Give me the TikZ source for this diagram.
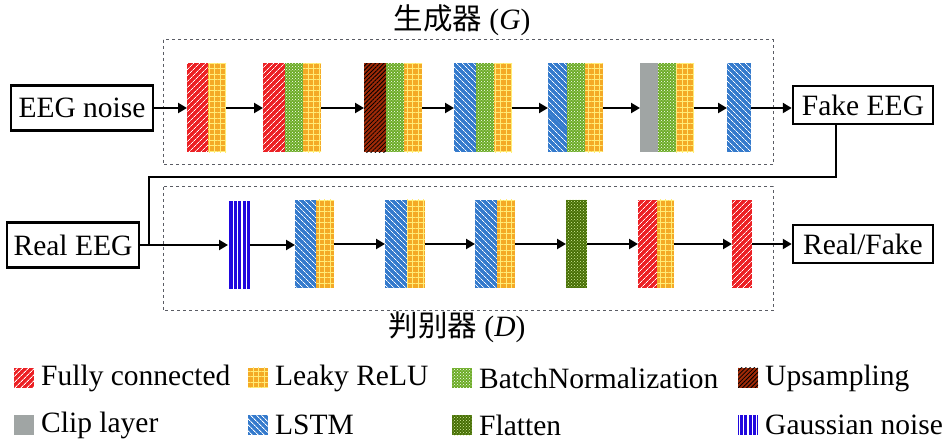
\documentclass[tikz,border=0pt]{standalone}
\usepackage{fontspec}
\setmainfont{Liberation Serif}
\newfontfamily\cjk{Noto Sans CJK SC}
\usetikzlibrary{positioning,arrows.meta,patterns,patterns.meta}
\definecolor{fcred}{RGB}{236,32,36}
\definecolor{lrorange}{RGB}{244,170,38}
\definecolor{lryellow}{RGB}{255,236,120}
\definecolor{bngreen}{RGB}{108,172,38}
\definecolor{upbrown}{RGB}{160,42,8}
\definecolor{clipgray}{RGB}{160,165,164}
\definecolor{lstmblue}{RGB}{52,122,204}
\definecolor{flatgreen}{RGB}{70,110,4}
\definecolor{flatdots}{RGB}{215,240,160}
\definecolor{gnblue}{RGB}{32,8,222}
\definecolor{framegray}{RGB}{90,92,100}
\tikzset{
  layer/.style={inner sep=0pt, outer sep=0pt, minimum height=89pt},
  fclayer/.style={layer, minimum width=21pt, fill=fcred,
    postaction={pattern={Lines[angle=45,distance=4pt,line width=0.8pt]}, pattern color=white}},
  lrelu/.style={layer, minimum width=18pt, fill=lrorange,
    postaction={pattern={Hatch[angle=0,distance=5.5pt,line width=1pt]}, pattern color=lryellow}},
  bnorm/.style={layer, minimum width=18pt, fill=bngreen,
    postaction={pattern=crosshatch dots, pattern color=white}},
  upsamp/.style={layer, minimum width=22pt, fill=upbrown,
    postaction={pattern={Lines[angle=45,distance=3pt,line width=0.8pt]}, pattern color=black}},
  cliplayer/.style={layer, minimum width=18pt, fill=clipgray},
  lstmlayer/.style={layer, minimum width=22pt, fill=lstmblue,
    postaction={pattern={Lines[angle=-45,distance=4pt,line width=0.8pt]}, pattern color=white}},
  flatlayer/.style={layer, minimum width=21pt, fill=flatgreen,
    postaction={pattern=crosshatch dots, pattern color=flatdots}},
  gnoise/.style={layer, minimum width=22pt, fill=gnblue,
    postaction={pattern={Lines[angle=90,distance=4.4pt,line width=1.3pt]}, pattern color=white}},
  swatch/.style={minimum width=20pt, minimum height=20pt},
  box/.style={draw, line width=2.5pt, inner sep=0pt},
  arr/.style={line width=2.5pt, -{Triangle[length=9pt,width=10pt]}},
  link/.style={line width=1.5pt},
  frame/.style={draw=framegray, dashed, line width=1pt}
}
\begin{document}
\begin{tikzpicture}[x=1pt, y=-1pt, every node/.style={font=\fontsize{29.5}{34}\selectfont}]
\useasboundingbox (0,0) rectangle (945,443);
% dashed frames and titles
\draw[frame] (163,40) rectangle (773,165);
\draw[frame] (163,187) rectangle (773,311);
\node (gtitle) at (462,20) {{\cjk 生成器} (\textit{G})};
\node (dtitle) at (457,327) {{\cjk 判别器} (\textit{D})};
% generator
\node[box, minimum width=142pt, minimum height=45pt] (noise) at (82,108) {EEG noise};
\node[fclayer, anchor=west] (g1a) at (187,108) {};
\node[lrelu, right=0pt of g1a] (g1b) {};
\node[fclayer, minimum width=22pt, anchor=west] (g2a) at (263,108) {};
\node[bnorm, right=0pt of g2a] (g2b) {};
\node[lrelu, right=0pt of g2b] (g2c) {};
\node[upsamp, anchor=west] (g3a) at (364,108) {};
\node[bnorm, right=0pt of g3a] (g3b) {};
\node[lrelu, right=0pt of g3b] (g3c) {};
\node[lstmlayer, anchor=west] (g4a) at (454,108) {};
\node[bnorm, right=0pt of g4a] (g4b) {};
\node[lrelu, right=0pt of g4b] (g4c) {};
\node[lstmlayer, minimum width=19pt, anchor=west] (g5a) at (548,108) {};
\node[bnorm, right=0pt of g5a] (g5b) {};
\node[lrelu, right=0pt of g5b] (g5c) {};
\node[cliplayer, anchor=west] (g6a) at (640,108) {};
\node[bnorm, right=0pt of g6a] (g6b) {};
\node[lrelu, right=0pt of g6b] (g6c) {};
\node[lstmlayer, minimum width=24pt, anchor=west] (g7a) at (727,108) {};
\node[box, minimum width=140pt, minimum height=38pt] (fake) at (863,105) {Fake EEG};
\draw[arr] (noise) -- (g1a);
\draw[arr] (g1b) -- (g2a);
\draw[arr] (g2c) -- (g3a);
\draw[arr] (g3c) -- (g4a);
\draw[arr] (g4c) -- (g5a);
\draw[arr] (g5c) -- (g6a);
\draw[arr] (g6c) -- (g7a);
\draw[arr] (g7a.east) -- (g7a.east -| fake.west);
% discriminator
\node[box, minimum width=132pt, minimum height=45pt] (real) at (73,245) {Real EEG};
\node[gnoise, minimum height=88pt, anchor=west] (d1a) at (228,245) {};
\node[lstmlayer, minimum width=21pt, minimum height=88pt, anchor=west] (d2a) at (295,244) {};
\node[lrelu, minimum height=88pt, right=0pt of d2a] (d2b) {};
\node[lstmlayer, minimum height=88pt, anchor=west] (d3a) at (385,244) {};
\node[lrelu, minimum height=88pt, right=0pt of d3a] (d3b) {};
\node[lstmlayer, minimum height=88pt, anchor=west] (d4a) at (475,244) {};
\node[lrelu, minimum height=88pt, right=0pt of d4a] (d4b) {};
\node[flatlayer, minimum height=88pt, anchor=west] (d5a) at (566,244) {};
\node[fclayer, minimum width=19pt, minimum height=88pt, anchor=west] (d6a) at (638,244) {};
\node[lrelu, minimum width=17pt, minimum height=88pt, right=0pt of d6a] (d6b) {};
\node[fclayer, minimum width=20pt, minimum height=88pt, anchor=west] (d7a) at (732,244) {};
\node[box, minimum width=140pt, minimum height=38pt] (judge) at (863,244) {Real/Fake};
\draw[arr] (real.east) -- (real.east -| d1a.west);
\draw[arr] (d1a.east) -- (d1a.east -| d2a.west);
\draw[arr] (d2b) -- (d3a);
\draw[arr] (d3b) -- (d4a);
\draw[arr] (d4b) -- (d5a);
\draw[arr] (d5a) -- (d6a);
\draw[arr] (d6b) -- (d7a);
\draw[arr] (d7a.east) -- (d7a.east -| judge.west);
% fake samples fed back to the discriminator
\coordinate (drop) at (836,177);
\coordinate (bend) at (149,177);
\draw[link] (drop |- fake.south) -- (drop) -- (bend) -- (bend |- real.east);
% legend
\foreach \sty/\txt/\x/\y in {fclayer/Fully connected/14/378, lrelu/Leaky ReLU/248/378,
    bnorm/BatchNormalization/452/378, upsamp/Upsampling/738/378,
    cliplayer/Clip layer/14/425, lstmlayer/LSTM/248/425,
    flatlayer/Flatten/452/425, gnoise/Gaussian noise/738/425}
{
  \node[\sty, swatch, anchor=west] (key-\sty) at (\x,\y) {};
  \node[right=7pt of key-\sty, inner sep=0pt] (lbl-\sty) {\txt};
}
\end{tikzpicture}
\end{document}
